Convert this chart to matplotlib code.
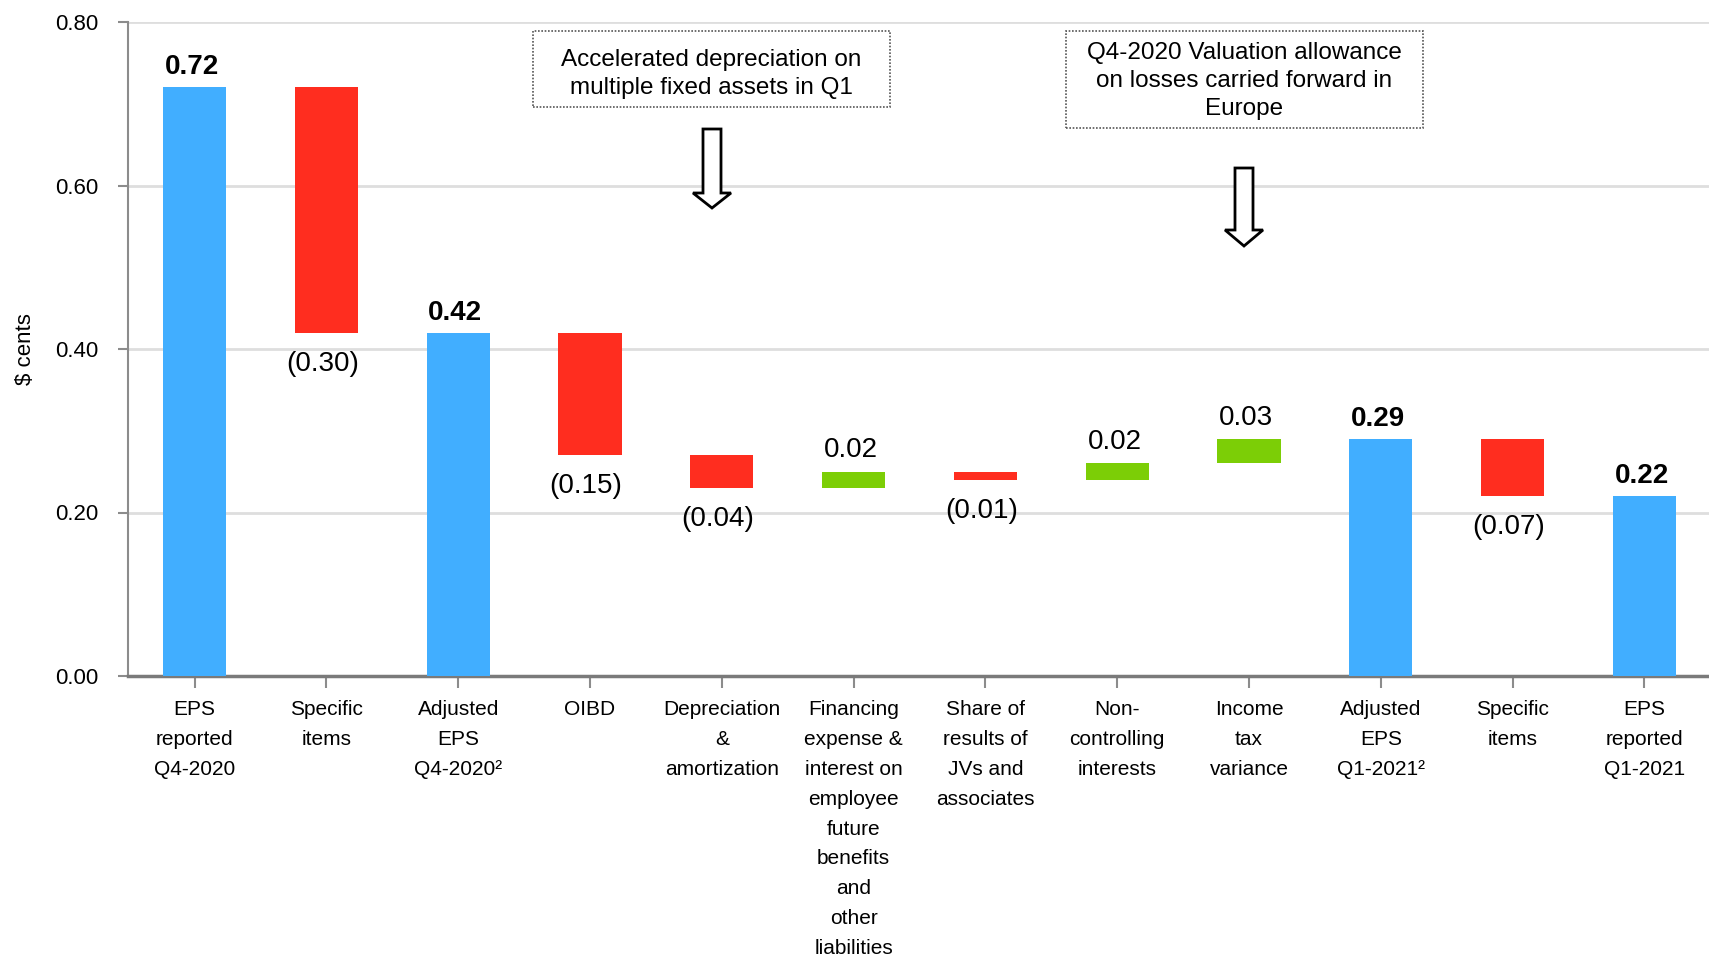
import matplotlib
matplotlib.use("Agg")
import matplotlib.pyplot as plt
from matplotlib.patches import Rectangle, Polygon
from matplotlib.transforms import IdentityTransform

plt.rcParams['font.family'] = ['Liberation Sans', 'DejaVu Sans']

# EPS bridge, Q4-2020 to Q1-2021
categories = [
    "EPS\nreported\nQ4-2020",
    "Specific\nitems",
    "Adjusted\nEPS\nQ4-2020\u00b2",
    "OIBD",
    "Depreciation\n&\namortization",
    "Financing\nexpense &\ninterest on\nemployee\nfuture\nbenefits\nand\nother\nliabilities",
    "Share of\nresults of\nJVs and\nassociates",
    "Non-\ncontrolling\ninterests",
    "Income\ntax\nvariance",
    "Adjusted\nEPS\nQ1-2021\u00b2",
    "Specific\nitems",
    "EPS\nreported\nQ1-2021",
]
values = [0.72, -0.30, 0.42, -0.15, -0.04, 0.02, -0.01, 0.02, 0.03, 0.29, -0.07, 0.22]
is_total = [True, False, True, False, False, False, False, False, False, True, False, True]
y_ticks = [0.00, 0.20, 0.40, 0.60, 0.80]

note_left = "Accelerated depreciation on\nmultiple fixed assets in Q1"
note_right = "Q4-2020 Valuation allowance\non losses carried forward in\nEurope"

BLUE = "#41AEFF"
RED = "#FF2D1F"
GREEN = "#7CCE06"

W, H = 1709, 966
fig = plt.figure(figsize=(W / 100, H / 100), dpi=100)
ax = fig.add_axes([128 / W, (H - 676) / H, 1 - 128 / W, (676 - 22) / H])

# running level of the bridge
bottoms, heights, colors = [], [], []
level = 0.0
for v, tot in zip(values, is_total):
    if tot:
        bottoms.append(0.0)
        heights.append(v)
        colors.append(BLUE)
        level = v
    else:
        bottoms.append(level + min(0.0, v))
        heights.append(abs(v))
        colors.append(GREEN if v > 0 else RED)
        level += v

x = list(range(len(values)))
ax.bar(x, heights, bottom=bottoms, width=0.48, color=colors, zorder=3)

for i, (v, tot, b, h) in enumerate(zip(values, is_total, bottoms, heights)):
    if tot:
        ax.annotate(f"{v:.2f}", (i, b + h), xytext=(-2, 5), textcoords="offset points",
                    ha="center", va="bottom", fontsize=20, fontweight="bold", color="black")
    elif v > 0:
        ax.annotate(f"{v:.2f}", (i, b + h), xytext=(-2, 6), textcoords="offset points",
                    ha="center", va="bottom", fontsize=20, color="black")
    else:
        ax.annotate(f"({abs(v):.2f})", (i, b), xytext=(-3, -13), textcoords="offset points",
                    ha="center", va="top", fontsize=20, color="black")

ax.set_ylim(0, 0.8)
ax.set_xlim(-0.505, 11.49)
ax.set_yticks(y_ticks)
ax.set_yticklabels([f"{t:.2f}" for t in y_ticks], fontsize=16)
ax.set_xticks(x)
ax.set_xticklabels(categories, fontsize=15)
for lbl in ax.get_xticklabels():
    lbl.set_linespacing(1.72)

ax.tick_params(axis="y", length=7, width=1.5, color="#8c8c8c", pad=14)
ax.tick_params(axis="x", length=8.5, width=1.5, color="#8c8c8c", pad=9)
ax.grid(axis="y", color="#dedede", linewidth=2, zorder=0)
ax.set_axisbelow(True)
for s in ("top", "right"):
    ax.spines[s].set_visible(False)
ax.spines["left"].set_color("#8c8c8c")
ax.spines["left"].set_linewidth(1.5)
ax.spines["bottom"].set_color("#7a7a7a")
ax.spines["bottom"].set_linewidth(2.5)

ax.set_ylabel(r"\$ cents", fontsize=16)
ax.yaxis.set_label_coords(-(128 - 36) / (W - 128), (676 - 349) / (676 - 22))


def fy(y):
    return H - y


# annotation boxes and hollow block arrows, placed in pixel space
ident = IdentityTransform()
for (x0, y0, x1, y1), txt, ty in [((533, 31, 890, 107), note_left, 74),
                                  ((1066, 31, 1423, 128), note_right, 81)]:
    fig.patches.append(Rectangle((x0, fy(y1)), x1 - x0, y1 - y0, transform=ident,
                                 fill=False, ec="#555555", lw=1.2, ls=(0, (1, 1))))
    fig.text((x0 + x1) / 2 / W, fy(ty) / H, txt, ha="center", va="center",
             fontsize=17.5, linespacing=1.36, color="black")

for cx, top, head, tip in [(712, 129, 193, 208), (1244, 168, 230, 246)]:
    sw, hw = 9, 19
    pts = [(cx - sw, top), (cx + sw, top), (cx + sw, head), (cx + hw, head),
           (cx, tip), (cx - hw, head), (cx - sw, head)]
    fig.patches.append(Polygon([(px, fy(py)) for px, py in pts], closed=True,
                               transform=ident, fill=True, fc="white", ec="black", lw=2))

fig.savefig("out.png", dpi=100)
